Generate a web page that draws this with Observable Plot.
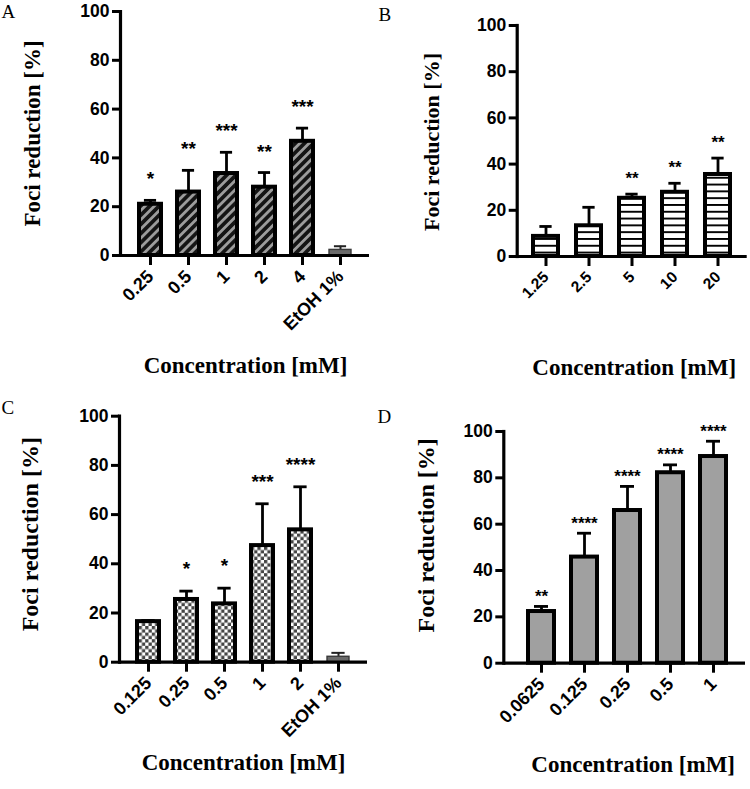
<!DOCTYPE html>
<html>
<head>
<meta charset="utf-8">
<script src="https://cdn.jsdelivr.net/npm/d3@7"></script>
<script src="https://cdn.jsdelivr.net/npm/@observablehq/plot@0.6"></script>
<style>
  body { margin: 0; background: white; }
  #wrap { position: relative; width: 750px; height: 789px; background: white; overflow: hidden; }
  .panel { position: absolute; }
</style>
</head>
<body>
<svg width="0" height="0" style="position:absolute">
  <defs>
    <pattern id="pA" patternUnits="userSpaceOnUse" width="6.5" height="6.5" patternTransform="rotate(45)">
      <rect width="6.5" height="6.5" fill="#141414"></rect>
      <rect x="0" y="0" width="2.8" height="6.5" fill="#9c9c9c"></rect>
    </pattern>
    <pattern id="pB" patternUnits="userSpaceOnUse" width="7" height="6.8">
      <rect width="7" height="6.8" fill="#ffffff"></rect>
      <rect x="0" y="0" width="7" height="1.9" fill="#000000"></rect>
    </pattern>
    <pattern id="pC" patternUnits="userSpaceOnUse" width="6.6" height="6.6">
      <rect width="6.6" height="6.6" fill="#ffffff"></rect>
      <rect x="0" y="0" width="3.3" height="3.3" fill="#444444"></rect>
      <rect x="3.3" y="3.3" width="3.3" height="3.3" fill="#444444"></rect>
    </pattern>
  </defs>
</svg>
<div id="wrap">
  <div class="panel" id="A" style="left:0px;top:0px"></div>
  <div class="panel" id="B" style="left:375px;top:0px"></div>
  <div class="panel" id="C" style="left:0px;top:395px"></div>
  <div class="panel" id="D" style="left:375px;top:395px"></div>
</div>
<script>
// ---------- data ----------
const catsA = ["0.25", "0.5", "1", "2", "4", "EtOH 1%"];
const meanA = [21, 26, 33.6, 28, 46.8, 2.3];
const errA = [1.6, 8.9, 8.7, 6, 5.4, 1.5];
const starsA = ["*", "**", "***", "**", "***", ""];
const ctrlA = [false, false, false, false, false, true];

const catsB = ["1.25", "2.5", "5", "10", "20"];
const meanB = [8.7, 13.3, 25.2, 27.8, 35.5];
const errB = [4.3, 8, 1.8, 3.9, 7.1];
const starsB = ["", "", "**", "**", "**"];
const ctrlB = [false, false, false, false, false];

const catsC = ["0.125", "0.25", "0.5", "1", "2", "EtOH 1%"];
const meanC = [16.5, 25.5, 23.7, 47.4, 53.8, 2.2];
const errC = [0.4, 3.4, 6.4, 17, 17.5, 1.6];
const starsC = ["", "*", "*", "***", "****", ""];
const ctrlC = [false, false, false, false, false, true];

const catsD = ["0.0625", "0.125", "0.25", "0.5", "1"];
const meanD = [22.3, 45.8, 65.9, 82.2, 89.2];
const errD = [2.2, 10.3, 10.4, 3.4, 6.6];
const starsD = ["**", "****", "****", "****", "****"];
const ctrlD = [false, false, false, false, false];

const yTicks = [0, 20, 40, 60, 80, 100];
const yLabel = "Foci reduction [%]";
const xLabel = "Concentration [mM]";

// ---------- drawing ----------
const SANS = "Liberation Sans, Arial, sans-serif";
const SERIF = "Liberation Serif, Times New Roman, serif";

function panel(cfg) {
  const data = cfg.cats.map((c, i) => ({cat: c, mean: cfg.mean[i], err: cfg.err[i], stars: cfg.stars[i], ctrl: cfg.ctrl[i]}));
  const treat = data.filter(d => !d.ctrl);
  const ctrl = data.filter(d => d.ctrl);
  const n = cfg.cats.length;
  const rangeLen = cfg.width - cfg.mL - cfg.mR;
  const step = rangeLen / (n - cfg.pi + 2 * cfg.po);
  const bw = step * (1 - cfg.pi);
  const inset = Math.max(0, (bw - cfg.cap) / 2);
  const top = d => d.mean + d.err;
  const chart = Plot.plot({
    width: cfg.width,
    height: cfg.height,
    marginLeft: cfg.mL,
    marginRight: cfg.mR,
    marginTop: cfg.mT,
    marginBottom: cfg.mB,
    style: {fontFamily: SANS, background: "white", color: "black", overflow: "visible"},
    x: {type: "band", domain: cfg.cats, paddingInner: cfg.pi, paddingOuter: cfg.po, align: cfg.align ?? 0.5},
    y: {domain: [0, 100]},
    marks: [
      // error bars (upper only)
      Plot.ruleX(treat, {x: "cat", y1: "mean", y2: top, stroke: "black", strokeWidth: 2.8}),
      Plot.ruleX(ctrl, {x: "cat", y1: "mean", y2: top, stroke: "#222", strokeWidth: 2}),
      // bars
      Plot.barY(treat, {x: "cat", y: "mean", fill: cfg.fill, stroke: "black", strokeWidth: 4}),
      Plot.barY(ctrl, {x: "cat", y: "mean", fill: "#6a6a6a", stroke: "#3a3a3a", strokeWidth: 1.4}),
      Plot.tickY(treat, {x: "cat", y: top, stroke: "black", strokeWidth: 2.8, insetLeft: inset, insetRight: inset}),
      Plot.tickY(ctrl, {x: "cat", y: top, stroke: "#222", strokeWidth: 2, insetLeft: inset, insetRight: inset}),
      // axes
      Plot.ruleY([0], {stroke: "black", strokeWidth: 3.2}),
      Plot.frame({anchor: "left", stroke: "black", strokeWidth: 3.2}),
      Plot.axisY({ticks: yTicks, tickSize: 8, tickPadding: 3, strokeWidth: 3, fontSize: 17.5, fontWeight: "bold", fontFamily: SANS, label: null}),
      Plot.axisX({tickSize: 10, tickPadding: 8, tickRotate: -45, strokeWidth: 3, fontSize: cfg.xfs, fontWeight: "bold", fontFamily: SANS, label: null}),
      // significance stars
      Plot.text(data.filter(d => d.stars), {x: "cat", y: top, text: "stars", dy: cfg.starDy, fontSize: cfg.starFs, fontWeight: "bold", fontFamily: SANS, lineAnchor: "middle", textAnchor: "middle"}),
      // axis titles
      Plot.text([yLabel], {text: d => d, frameAnchor: "left", rotate: -90, dx: cfg.ylDx, dy: cfg.ylDy, fontFamily: SERIF, fontWeight: "bold", fontSize: cfg.ylFs, textAnchor: "middle", lineAnchor: "middle"}),
      Plot.text([xLabel], {text: d => d, frameAnchor: "bottom", dx: cfg.xlDx, dy: cfg.xlDy, fontFamily: SERIF, fontWeight: "bold", fontSize: 23, textAnchor: "middle", lineAnchor: "middle"}),
      // panel letter
      Plot.text([cfg.letter], {text: d => d, frameAnchor: "top-left", dx: cfg.lx - cfg.mL, dy: cfg.ly - cfg.mT, fontFamily: SERIF, fontSize: 19, textAnchor: "start", lineAnchor: "middle"})
    ]
  });
  document.getElementById(cfg.id).appendChild(chart);
}

panel({id: "A", letter: "A", cats: catsA, mean: meanA, err: errA, stars: starsA, ctrl: ctrlA,
  width: 375, height: 395, mL: 120, mR: 6, mT: 11, mB: 140, pi: 0.43, po: 0.466, cap: 12,
  fill: "url(#pA)", xfs: 18, starFs: 19, starDy: -21,
  ylDx: -88, ylDy: 0, ylFs: 23, xlDx: 0.5, xlDy: 110, lx: 1, ly: 11});

panel({id: "B", letter: "B", cats: catsB, mean: meanB, err: errB, stars: starsB, ctrl: ctrlB,
  width: 375, height: 395, mL: 141.7, mR: 3.3, mT: 25, mB: 139, pi: 0.43, po: 0.365, cap: 12,
  fill: "url(#pB)", xfs: 15.5, starFs: 17, starDy: -16,
  ylDx: -85, ylDy: 1, ylFs: 22, xlDx: 2, xlDy: 111, lx: 3, ly: 14});

panel({id: "C", letter: "C", cats: catsC, mean: meanC, err: errC, stars: starsC, ctrl: ctrlC,
  width: 375, height: 394, mL: 119, mR: 8, mT: 20.7, mB: 127.3, pi: 0.41, po: 0.42, cap: 14,
  fill: "url(#pC)", xfs: 18, starFs: 19, starDy: -22,
  ylDx: -89, ylDy: -5, ylFs: 24, xlDx: 0, xlDy: 100, lx: 1, ly: 12.5});

panel({id: "D", letter: "D", cats: catsD, mean: meanD, err: errD, stars: starsD, ctrl: ctrlD,
  width: 375, height: 394, mL: 128.3, mR: 5, mT: 36, mB: 126.3, pi: 0.4, po: 0.49, align: 0.57, cap: 14,
  fill: "#a0a0a0", xfs: 18, starFs: 17, starDy: -10,
  ylDx: -77.5, ylDy: -12, ylFs: 24, xlDx: 8.5, xlDy: 101, lx: 2, ly: 21});
</script>
</body>
</html>
